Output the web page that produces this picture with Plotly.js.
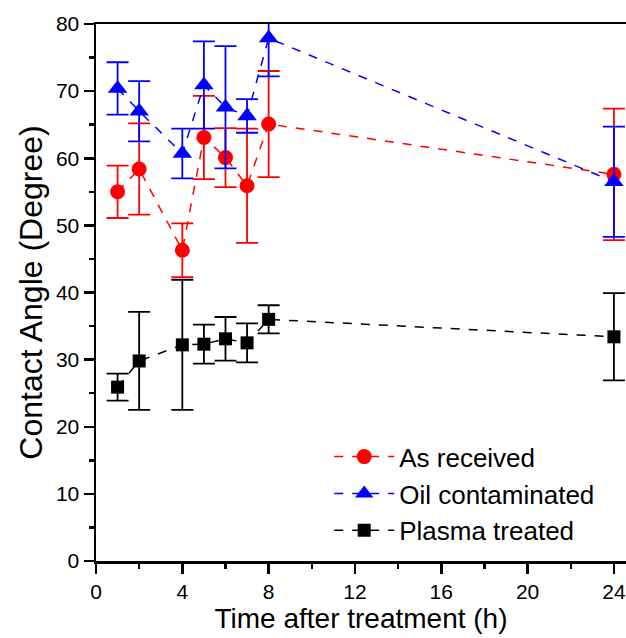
<!DOCTYPE html>
<html>
<head>
<meta charset="utf-8">
<script src="https://cdn.plot.ly/plotly-3.0.1.min.js"></script>
<style>html,body{margin:0;padding:0;background:#fff;}#chart{width:626px;height:638px;}</style>
</head>
<body>
<div id="chart"></div>
<script>
const hours = [1, 2, 4, 5, 6, 7, 8, 24];

const asReceived = [55.0, 58.4, 46.3, 63.1, 60.1, 55.9, 65.1, 57.6];
const asReceivedErr = [3.9, 6.8, 4.0, 6.2, 4.4, 8.5, 7.9, 9.8];

const oilContaminated = [70.4, 67.0, 60.7, 70.9, 67.6, 66.3, 77.9, 56.5];
const oilContaminatedErr = [3.9, 4.5, 3.7, 6.5, 9.1, 2.5, 5.7, 8.2];

const plasmaTreated = [25.9, 29.8, 32.2, 32.3, 33.1, 32.5, 36.0, 33.4];
const plasmaTreatedErr = [2.0, 7.3, 9.7, 2.9, 3.25, 2.9, 2.1, 6.5];

const seriesNames = ["As received", "Oil contaminated", "Plasma treated"];

function mk(y, err, name, color, symbol, size) {
  return {
    x: hours, y: y, name: name, type: 'scatter', mode: 'lines+markers',
    line: {color: color, width: 1.5, dash: 'dash'},
    marker: {color: color, symbol: symbol, size: size},
    error_y: {type: 'data', array: err, visible: true, color: color, thickness: 1.8, width: 11},
    cliponaxis: true
  };
}

const traces = [
  mk(asReceived, asReceivedErr, seriesNames[0], '#ff0000', 'circle', 15),
  mk(oilContaminated, oilContaminatedErr, seriesNames[1], '#0000ff', 'triangle-up', 17),
  mk(plasmaTreated, plasmaTreatedErr, seriesNames[2], '#000000', 'square', 13)
];

const layout = {
  width: 626, height: 638,
  margin: {l: 96, r: 0, t: 24, b: 77},
  paper_bgcolor: '#fff', plot_bgcolor: '#fff',
  font: {family: 'Liberation Sans, Arial, sans-serif', color: '#000'},
  showlegend: true,
  legend: {x: 0.44, y: 0.238, xanchor: 'left', yanchor: 'top', font: {size: 26},
           bgcolor: 'rgba(0,0,0,0)', tracegroupgap: 0, itemwidth: 60},
  xaxis: {
    range: [0, 24.56], tickvals: [0, 4, 8, 12, 16, 20, 24],
    showgrid: false, zeroline: false,
    showline: true, linecolor: '#000', linewidth: 2.5, mirror: true,
    ticks: 'outside', ticklen: 10, tickwidth: 2.5, tickcolor: '#000',
    minor: {dtick: 2, tick0: 0, ticks: 'outside', ticklen: 5, tickwidth: 2.5, tickcolor: '#000', showgrid: false},
    tickfont: {size: 21},
    title: {text: 'Time after treatment (h)', font: {size: 28}, standoff: 4}
  },
  yaxis: {
    range: [0, 80], dtick: 10,
    showgrid: false, zeroline: false,
    showline: true, linecolor: '#000', linewidth: 2.5, mirror: false,
    ticks: 'outside', ticklen: 10, tickwidth: 2.5, tickcolor: '#000',
    minor: {dtick: 5, tick0: 0, ticks: 'outside', ticklen: 5, tickwidth: 2.5, tickcolor: '#000', showgrid: false},
    tickfont: {size: 21},
    title: {text: 'Contact Angle (Degree)', font: {size: 32}, standoff: 4}
  }
};

Plotly.newPlot('chart', traces, layout, {displayModeBar: false, staticPlot: true});
</script>
</body>
</html>
